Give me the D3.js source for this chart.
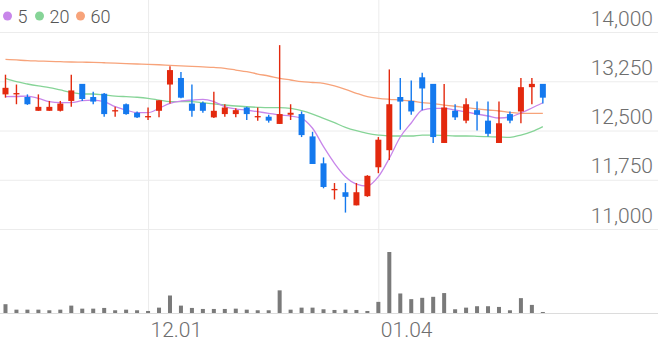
<!DOCTYPE html>
<html>
<head>
<meta charset="utf-8">
<script src="https://cdn.jsdelivr.net/npm/d3@7"></script>
<style>
  html, body { margin: 0; padding: 0; background: #fff; }
  svg { display: block; font-family: Roboto, 'Noto Sans', sans-serif; }
</style>
</head>
<body>
<script>
// trading days
let dates = ['11.12','11.13','11.16','11.17','11.18','11.19','11.20','11.23','11.24','11.25',
  '11.26','11.27','11.30','12.01','12.02','12.03','12.04','12.07','12.08','12.09',
  '12.10','12.11','12.14','12.15','12.16','12.17','12.18','12.21','12.22','12.23',
  '12.24','12.28','12.29','12.30','01.04','01.05','01.06','01.07','01.08','01.11',
  '01.12','01.13','01.14','01.15','01.18','01.19','01.20','01.21','01.22','01.25'];

let open  = [13050,13050,13010,12800,12800,12800,12950,13210,13010,13060,
  12790,12900,12770,12700,12800,13200,13300,12910,12920,12700,
  12750,12750,12850,12700,12710,12600,12740,12750,12410,12000,
  11590,11560,11360,11500,11940,12200,13010,12950,13310,13210,
  12310,12800,12650,12810,12650,12310,12750,12790,13160,13210];
let high  = [13350,13200,13050,13050,12950,12950,13350,13210,13090,13070,
  12860,12910,12790,12850,12960,13480,13390,13200,12940,13090,
  12900,12840,12860,12850,12740,13800,12900,12790,12480,12090,
  11700,11700,11700,11820,12400,13430,13300,13260,13380,13210,
  13210,12900,12990,12940,12940,12940,12790,13300,13300,13210];
let low   = [13000,12900,12890,12800,12800,12790,12860,12950,12900,12710,
  12710,12740,12690,12660,12700,12910,12990,12710,12770,12690,
  12710,12700,12660,12650,12620,12600,12660,12400,11990,11620,
  11450,11250,11360,11490,11850,12050,12510,12740,12810,12310,
  12310,12660,12610,12500,12410,12310,12610,12610,12900,12910];
let close = [13150,13070,12900,12860,12860,12910,13110,12980,12940,12750,
  12810,12750,12700,12720,12960,13420,13000,12800,12800,12800,
  12850,12810,12750,12720,12650,12750,12770,12430,11990,11640,
  11610,11490,11560,11810,12360,12900,12940,12790,13140,12400,
  12850,12700,12900,12740,12450,12610,12650,13160,13210,13000];
let volume = [87000,33000,33000,33000,27000,33000,73000,43000,43000,50000,
  27000,33000,27000,20000,53000,173000,73000,50000,40000,40000,
  40000,43000,33000,27000,27000,224000,33000,53000,53000,37000,
  30000,33000,30000,20000,110000,603000,193000,137000,150000,160000,
  197000,37000,53000,67000,67000,60000,27000,147000,80000,10000];

// moving averages
let ma5 = [13015,13018,13025,12990,12939,12923,12923,12954,12964,12939,
  12862,12812,12771,12771,12838,12914,12949,12964,12975,12939,
  12862,12827,12812,12786,12762,12736,12721,12686,12534,12253,
  12001,11797,11685,11655,11797,12077,12401,12614,12812,12838,
  12838,12812,12782,12751,12721,12690,12706,12767,12843,12923];
let ma20 = [13295,13243,13208,13178,13152,13117,13082,13056,13056,13041,
  13025,13015,13006,12990,12964,12939,12939,12939,12923,12904,
  12888,12873,12862,12853,12847,12847,12838,12802,12751,12686,
  12619,12549,12497,12457,12431,12416,12416,12416,12431,12431,
  12424,12416,12416,12412,12406,12401,12396,12431,12482,12558];
let ma60 = [13584,13574,13563,13558,13554,13548,13543,13540,13538,13532,
  13525,13518,13513,13508,13501,13493,13485,13478,13469,13460,
  13447,13421,13395,13360,13330,13295,13269,13243,13231,13216,
  13178,13127,13067,13015,12990,12975,12964,12949,12926,12908,
  12888,12869,12847,12830,12812,12797,12777,12762,12762,12762];

let priceTicks = [11000, 11750, 12500, 13250, 14000];
let dateTicks = ['12.01', '01.04'];
let maNames = ['5', '20', '60'];
let maColors = ['#c886ea', '#86d497', '#f7a37a'];

let width = 658, height = 342;
let upColor = '#e3290e', downColor = '#1479ee';

let svg = d3.select('body').append('svg')
  .attr('width', width)
  .attr('height', height);

// 60 slots, last 10 left empty
let x = d3.scaleLinear().domain([-0.5, 59.5]).range([0, width]);
let y = d3.scaleLinear().domain([11000, 14000]).range([229, 32]);
let yVol = d3.scaleLinear().domain([0, d3.max(volume)]).range([313, 252]);

// horizontal grid
let yAxis = d3.axisRight(y).tickValues(priceTicks).tickSize(width).tickFormat(d3.format(','));
let gy = svg.append('g').call(yAxis);
gy.select('.domain').remove();
gy.selectAll('.tick line').attr('stroke', '#ececec');
gy.selectAll('.tick text')
  .attr('x', 653).attr('dy', -7)
  .attr('text-anchor', 'end')
  .attr('font-size', '21px')
  .attr('font-weight', 300)
  .attr('fill', '#6e6e6e')
  .attr('font-family', 'Roboto, sans-serif');

// vertical grid + date labels
let xAxis = d3.axisBottom(x)
  .tickValues(dateTicks.map(d => dates.indexOf(d)))
  .tickSize(313)
  .tickFormat(i => dates[i]);
let gx = svg.append('g').call(xAxis);
gx.select('.domain').remove();
gx.selectAll('.tick line').attr('stroke', '#ececec');
gx.selectAll('.tick text')
  .attr('y', 337).attr('dy', 0).attr('x', 2)
  .attr('text-anchor', 'start')
  .attr('font-size', '21px')
  .attr('font-weight', 300)
  .attr('fill', '#6e6e6e')
  .attr('font-family', 'Roboto, sans-serif');

// volume baseline
svg.append('line')
  .attr('x1', 0).attr('x2', width)
  .attr('y1', 313.5).attr('y2', 313.5)
  .attr('stroke', '#dcdcdc');

// volume bars
svg.selectAll('rect.vol')
  .data(volume)
  .enter()
  .append('rect')
  .attr('class', 'vol')
  .attr('x', (d, i) => x(i) - 2)
  .attr('y', d => yVol(d))
  .attr('width', 4)
  .attr('height', d => 313 - yVol(d))
  .attr('fill', '#7a7a7a');

// moving averages
[ma60, ma20, ma5].forEach((s, k) => {
  let line = d3.line()
    .x((d, i) => x(i))
    .y(d => y(d))
    .curve(d3.curveMonotoneX);
  svg.append('path')
    .datum(s)
    .attr('d', line)
    .attr('fill', 'none')
    .attr('stroke', maColors[2 - k])
    .attr('stroke-width', 1.3);
});

// candles
let candles = svg.selectAll('g.candle')
  .data(dates)
  .enter()
  .append('g')
  .attr('class', 'candle');

candles.append('line')
  .attr('x1', (d, i) => x(i)).attr('x2', (d, i) => x(i))
  .attr('y1', (d, i) => y(high[i]))
  .attr('y2', (d, i) => y(low[i]))
  .attr('stroke', (d, i) => close[i] >= open[i] ? upColor : downColor)
  .attr('stroke-width', 1.4);

candles.append('rect')
  .attr('x', (d, i) => x(i) - 3)
  .attr('y', (d, i) => y(Math.max(open[i], close[i])))
  .attr('width', 6)
  .attr('height', (d, i) => Math.max(1.2, Math.abs(y(open[i]) - y(close[i]))))
  .attr('fill', (d, i) => close[i] >= open[i] ? upColor : downColor);

// legend
let legendX = [7.5, 39.5, 80.5];
let legend = svg.selectAll('g.legend')
  .data(maNames)
  .enter()
  .append('g')
  .attr('class', 'legend')
  .attr('transform', (d, i) => `translate(${legendX[i]},16)`);
legend.append('circle')
  .attr('r', 4.5)
  .attr('fill', (d, i) => maColors[i]);
legend.append('text')
  .attr('x', 10)
  .attr('y', 6.5)
  .text(d => d)
  .attr('font-size', '18px')
  .attr('font-weight', 300)
  .attr('fill', '#555')
  .attr('font-family', 'Roboto, sans-serif');
</script>
</body>
</html>
